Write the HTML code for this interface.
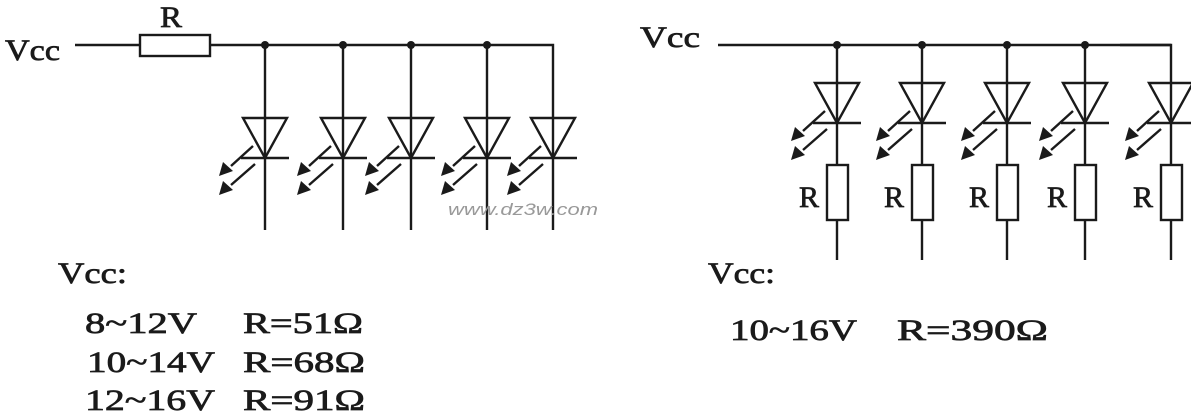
<!DOCTYPE html>
<html><head><meta charset="utf-8"><style>
html,body{margin:0;padding:0;background:#fff;}
svg{display:block}
text{font-family:"Liberation Serif",serif;fill:#1a1a1a;stroke:#1a1a1a;stroke-width:0.7}
</style></head><body>
<svg width="1191" height="414" viewBox="0 0 1191 414" xmlns="http://www.w3.org/2000/svg">
<defs>
<g id="led">
 <polygon points="-22,0 22,0 0,40" fill="none" stroke="#1a1a1a" stroke-width="2.4"/>
 <line x1="-24" y1="40" x2="24" y2="40" stroke="#1a1a1a" stroke-width="2.4"/>
 <line x1="-12" y1="28" x2="-34" y2="48" stroke="#1a1a1a" stroke-width="2.4"/>
 <polygon points="-46,58 -42,44 -32,53" fill="#1a1a1a"/>
 <line x1="-10" y1="46" x2="-34" y2="67" stroke="#1a1a1a" stroke-width="2.4"/>
 <polygon points="-46,77 -42,63 -32,72" fill="#1a1a1a"/>
</g>
<g id="res">
 <rect x="-10" y="0" width="21" height="55" fill="#fff" stroke="#1a1a1a" stroke-width="2.4"/>
 <text x="-38" y="42" font-size="30">R</text>
</g>
</defs>
<g stroke="#1a1a1a" stroke-width="2.4" fill="none">
 <line x1="75" y1="45" x2="140" y2="45"/>
 <rect x="140" y="35" width="70" height="21"/>
 <polyline points="210,45 553,45 553,230"/>
 <line x1="265" y1="45" x2="265" y2="230"/>
 <line x1="343" y1="45" x2="343" y2="230"/>
 <line x1="411" y1="45" x2="411" y2="230"/>
 <line x1="487" y1="45" x2="487" y2="230"/>
 <line x1="718" y1="45" x2="1171" y2="45"/>
 <polyline points="1120,45 1171,45 1171,260"/>
 <line x1="837" y1="45" x2="837" y2="260"/>
 <line x1="922" y1="45" x2="922" y2="260"/>
 <line x1="1007" y1="45" x2="1007" y2="260"/>
 <line x1="1085" y1="45" x2="1085" y2="260"/>
</g>
<g fill="#1a1a1a">
 <circle cx="265" cy="45" r="4"/><circle cx="343" cy="45" r="4"/><circle cx="411" cy="45" r="4"/><circle cx="487" cy="45" r="4"/>
 <circle cx="837" cy="45" r="4"/><circle cx="922" cy="45" r="4"/><circle cx="1007" cy="45" r="4"/><circle cx="1085" cy="45" r="4"/>
</g>
<use href="#led" x="265" y="118"/><use href="#led" x="343" y="118"/><use href="#led" x="411" y="118"/><use href="#led" x="487" y="118"/><use href="#led" x="553" y="118"/>
<use href="#led" x="837" y="83"/><use href="#led" x="922" y="83"/><use href="#led" x="1007" y="83"/><use href="#led" x="1085" y="83"/><use href="#led" x="1171" y="83"/>
<use href="#res" x="837" y="165"/><use href="#res" x="922" y="165"/><use href="#res" x="1007" y="165"/><use href="#res" x="1085" y="165"/><use href="#res" x="1171" y="165"/>
<text x="160" y="27" font-size="30" textLength="22" lengthAdjust="spacingAndGlyphs">R</text>
<text x="5" y="60" font-size="30" textLength="55" lengthAdjust="spacingAndGlyphs">Vcc</text>
<text x="640" y="47" font-size="30" textLength="60" lengthAdjust="spacingAndGlyphs">Vcc</text>
<text x="448" y="215" font-size="17" font-style="italic" textLength="150" lengthAdjust="spacingAndGlyphs" style="font-family:'Liberation Sans',sans-serif;fill:#999;stroke:none">www.dz3w.com</text>
<g font-size="30">
<text x="58" y="283" textLength="69" lengthAdjust="spacingAndGlyphs">Vcc:</text>
<text x="85" y="333" textLength="112" lengthAdjust="spacingAndGlyphs">8~12V</text><text x="243" y="333" textLength="120" lengthAdjust="spacingAndGlyphs">R=51Ω</text>
<text x="87" y="372" textLength="128" lengthAdjust="spacingAndGlyphs">10~14V</text><text x="243" y="372" textLength="122" lengthAdjust="spacingAndGlyphs">R=68Ω</text>
<text x="85" y="410" textLength="130" lengthAdjust="spacingAndGlyphs">12~16V</text><text x="243" y="410" textLength="122" lengthAdjust="spacingAndGlyphs">R=91Ω</text>
<text x="708" y="283" textLength="67" lengthAdjust="spacingAndGlyphs">Vcc:</text>
<text x="730" y="340" textLength="127" lengthAdjust="spacingAndGlyphs">10~16V</text><text x="897" y="340" textLength="151" lengthAdjust="spacingAndGlyphs">R=390Ω</text>
</g>
</svg>
</body></html>
